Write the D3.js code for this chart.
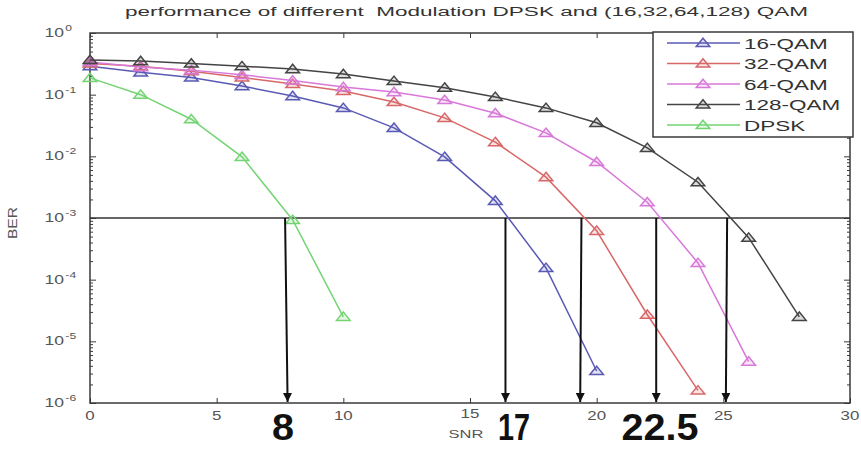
<!DOCTYPE html>
<html><head><meta charset="utf-8">
<script src="https://cdn.jsdelivr.net/npm/d3@7"></script>
<style>
html,body{margin:0;padding:0;background:#fff;}
text{font-family:"Liberation Sans",Arial,sans-serif;}
</style></head>
<body><svg id="c" width="861" height="449"></svg>
<script>
// ---- data ----
const snr16 = [0,2,4,6,8,10,12,14,16,18,20];
const ber16 = [0.29,0.23,0.19,0.138,0.095,0.061,0.029,0.0098,0.0019,1.55e-4,3.3e-6];
const snr32 = [0,2,4,6,8,10,12,14,16,18,20,22,24];
const ber32 = [0.32,0.29,0.24,0.19,0.149,0.115,0.076,0.042,0.017,0.0046,6.2e-4,2.7e-5,1.6e-6];
const snr64 = [0,2,4,6,8,10,12,14,16,18,20,22,24,26];
const ber64 = [0.34,0.28,0.25,0.21,0.17,0.133,0.11,0.082,0.05,0.024,0.0081,0.0018,1.87e-4,4.7e-6];
const snr128 = [0,2,4,6,8,10,12,14,16,18,20,22,24,26,28];
const ber128 = [0.365,0.35,0.32,0.29,0.26,0.216,0.167,0.13,0.092,0.061,0.035,0.0137,0.0038,4.8e-4,2.5e-5];
const snrDPSK = [0,2,4,6,8,10];
const berDPSK = [0.187,0.1,0.04,0.0098,9.3e-4,2.5e-5];
const seriesNames = ["16-QAM","32-QAM","64-QAM","128-QAM","DPSK"];
const seriesColors = ["#5a5ab4","#d86868","#d878d8","#444444","#74d474"];
const xTicks = [0,5,10,15,20,25,30];
const yExponents = [0,-1,-2,-3,-4,-5,-6];
const thresholdBER = 1e-3;
const arrowTopX = [7.7,16.4,19.4,22.35,25.15];
const arrowBottomX = [7.8,16.4,19.35,22.35,25.1];
const bigLabels = ["8","17","22.5"];
const bigLabelX = [7.62,16.74,22.5];
const titleText = "performance of different  Modulation DPSK and (16,32,64,128) QAM";

const series = [
  {name:seriesNames[0], color:seriesColors[0], pts:snr16.map((s,i)=>({x:s,y:ber16[i]}))},
  {name:seriesNames[1], color:seriesColors[1], pts:snr32.map((s,i)=>({x:s,y:ber32[i]}))},
  {name:seriesNames[2], color:seriesColors[2], pts:snr64.map((s,i)=>({x:s,y:ber64[i]}))},
  {name:seriesNames[3], color:seriesColors[3], pts:snr128.map((s,i)=>({x:s,y:ber128[i]}))},
  {name:seriesNames[4], color:seriesColors[4], pts:snrDPSK.map((s,i)=>({x:s,y:berDPSK[i]}))}
];

// ---- layout ----
const L=90, R=850, T=33, B=403;
const x = d3.scaleLinear([0,30],[L,R]);
const y = d3.scaleLog([1e-6,1],[B,T]);
const svg = d3.select("#c");
const axisColor = "#3a3a3a", textColor="#555";

const minor = [];
for (let e=-6;e<0;e++) for (let m=2;m<=9;m++) minor.push(m*Math.pow(10,e));
const major = yExponents.map(e=>Math.pow(10,e));

function styleAxis(g){ g.select(".domain").remove(); g.selectAll("line").attr("stroke",axisColor).attr("stroke-width",1); g.selectAll("text").remove(); }

svg.append("g").attr("transform",`translate(${L},0)`).call(d3.axisLeft(y).tickValues(minor).tickSize(-3)).call(styleAxis);
svg.append("g").attr("transform",`translate(${L},0)`).call(d3.axisLeft(y).tickValues(major).tickSize(-6)).call(styleAxis);
svg.append("g").attr("transform",`translate(${R},0)`).call(d3.axisRight(y).tickValues(minor).tickSize(-3)).call(styleAxis);
svg.append("g").attr("transform",`translate(${R},0)`).call(d3.axisRight(y).tickValues(major).tickSize(-6)).call(styleAxis);
svg.append("g").attr("transform",`translate(0,${B})`).call(d3.axisBottom(x).tickValues(xTicks).tickSize(-5)).call(styleAxis);
svg.append("g").attr("transform",`translate(0,${T})`).call(d3.axisTop(x).tickValues(xTicks).tickSize(-5)).call(styleAxis);

svg.append("rect").attr("x",L).attr("y",T).attr("width",R-L).attr("height",B-T)
  .attr("fill","none").attr("stroke",axisColor).attr("stroke-width",1.5);

yExponents.forEach(e=>{
  const g = svg.append("g").attr("transform",`translate(64,${y(Math.pow(10,e))+4}) scale(1.35,1)`);
  g.append("text").attr("text-anchor","end").attr("font-size",13).attr("fill",textColor).text("10");
  g.append("text").attr("x",1).attr("y",-6).attr("font-size",9).attr("fill",textColor).text(String(e));
});
xTicks.forEach(v=>{
  svg.append("g").attr("transform",`translate(${x(v)},${v===15?418:420}) scale(1.3,1)`)
    .append("text").attr("text-anchor","middle").attr("font-size",13).attr("fill",textColor).text(v);
});
svg.append("g").attr("transform","translate(17,223) rotate(-90) scale(1.3,1)")
  .append("text").attr("text-anchor","middle").attr("font-size",12).attr("fill",textColor).text("BER");
svg.append("g").attr("transform","translate(466,438) scale(1.5,1)")
  .append("text").attr("text-anchor","middle").attr("font-size",11).attr("fill",textColor).text("SNR");
svg.append("text").attr("x",125).attr("y",16).attr("font-size",12).attr("fill","#333")
  .style("white-space","pre")
  .attr("textLength",683).attr("lengthAdjust","spacingAndGlyphs").text(titleText);

svg.append("line").attr("x1",L).attr("x2",R).attr("y1",y(thresholdBER)).attr("y2",y(thresholdBER))
  .attr("stroke","#333").attr("stroke-width",1.6);

const tri = {draw(ctx,size){const w=Math.sqrt(size)*0.85,h=Math.sqrt(size)*0.6;ctx.moveTo(0,-h);ctx.lineTo(w,h*0.75);ctx.lineTo(-w,h*0.75);ctx.closePath();}};
const line = d3.line().x(d=>x(d.x)).y(d=>y(d.y));
series.forEach(s=>{
  svg.append("path").datum(s.pts).attr("d",line).attr("fill","none").attr("stroke",s.color).attr("stroke-width",1.5);
  svg.append("g").selectAll("path").data(s.pts).join("path")
    .attr("transform",d=>`translate(${x(d.x)},${y(d.y)})`)
    .attr("d",d3.symbol(tri,64)).attr("fill",s.color).attr("fill-opacity",0.18)
    .attr("stroke",s.color).attr("stroke-width",1.5);
});

const defs = svg.append("defs");
defs.append("marker").attr("id","ah").attr("viewBox","0 0 10 10").attr("refX",10).attr("refY",5)
  .attr("markerWidth",9).attr("markerHeight",9).attr("markerUnits","userSpaceOnUse").attr("orient","auto")
  .append("path").attr("d","M0,0 L10,5 L0,10 Z").attr("fill","#111");
arrowTopX.forEach((t,i)=>{
  svg.append("line").attr("x1",x(t)).attr("y1",y(thresholdBER)).attr("x2",x(arrowBottomX[i])).attr("y2",y(1e-6)-1)
    .attr("stroke","#111").attr("stroke-width",2).attr("marker-end","url(#ah)");
});

const lg = svg.append("g");
lg.append("rect").attr("x",653).attr("y",32).attr("width",200).attr("height",105)
  .attr("fill","#fff").attr("stroke",axisColor).attr("stroke-width",1.5);
series.forEach((s,i)=>{
  const yy = 43 + i*20.5;
  lg.append("line").attr("x1",667).attr("x2",740).attr("y1",yy).attr("y2",yy).attr("stroke",s.color).attr("stroke-width",1.5);
  lg.append("path").attr("transform",`translate(703,${yy})`).attr("d",d3.symbol(tri,64))
    .attr("fill",s.color).attr("fill-opacity",0.18).attr("stroke",s.color).attr("stroke-width",1.5);
  lg.append("g").attr("transform",`translate(744,${yy+5.5}) scale(1.5,1)`)
    .append("text").attr("font-size",15).attr("fill","#333").text(s.name);
});

const bigW = [22,32,77];
bigLabels.forEach((t,i)=>{
  svg.append("text").attr("x",x(bigLabelX[i])-bigW[i]/2).attr("y",440).attr("font-size",36).attr("font-weight","bold")
    .attr("fill","#111").attr("textLength",bigW[i]).attr("lengthAdjust","spacingAndGlyphs").text(t);
});
</script></body></html>
